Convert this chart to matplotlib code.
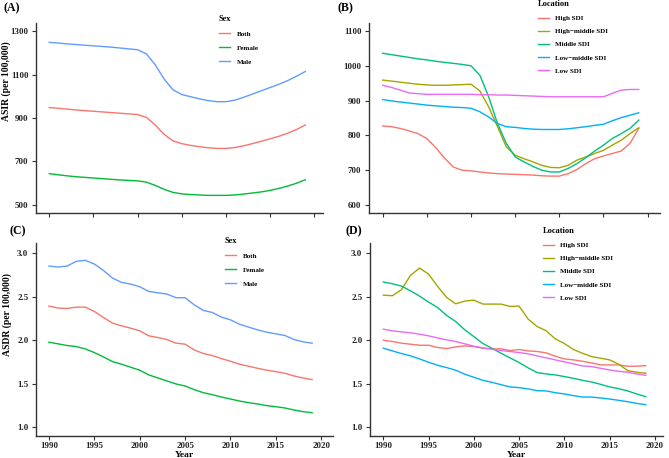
import numpy as np
import matplotlib
matplotlib.use('Agg')
import matplotlib.pyplot as plt

plt.rcParams['font.family'] = ['Liberation Serif', 'DejaVu Serif']
plt.rcParams['font.weight'] = 'bold'

# データ
years = list(range(1990, 2020))

sex_names = ['Both', 'Female', 'Male']
sex_colors = ['#F8766D', '#00BA38', '#619CFF']

loc_names = ['High SDI', 'High\u2212middle SDI', 'Middle SDI', 'Low\u2212middle SDI', 'Low SDI']
loc_colors = ['#F8766D', '#A3A500', '#00BF7D', '#00B0F6', '#E76BF3']

# (A) ASIR by sex
asir_both = [948, 945, 941, 937, 934, 931, 928, 925, 922, 919, 916, 903, 868, 825, 795,
             782, 774, 768, 763, 760, 760, 764, 772, 782, 793, 804, 816, 830, 847, 868]
asir_female = [644, 639, 634, 630, 627, 624, 621, 618, 615, 613, 611, 605, 590, 572, 558,
               551, 548, 546, 544, 544, 544, 546, 550, 555, 560, 567, 576, 587, 600, 616]
asir_male = [1248, 1245, 1241, 1238, 1235, 1232, 1229, 1226, 1222, 1218, 1214, 1195, 1145, 1080, 1030,
             1008, 998, 988, 980, 975, 975, 982, 995, 1010, 1025, 1040, 1055, 1072, 1092, 1114]

# (B) ASIR by SDI
asir_high = [827, 825, 820, 813, 805, 791, 765, 735, 709, 700, 698, 695, 692, 690, 689,
             688, 687, 686, 684, 683, 683, 690, 702, 719, 733, 741, 748, 755, 777, 820]
asir_highmid = [959, 956, 953, 950, 947, 945, 944, 944, 945, 946, 947, 928, 882, 825, 767,
                743, 733, 724, 714, 708, 707, 714, 729, 738, 748, 757, 772, 786, 805, 822]
asir_mid = [1036, 1032, 1028, 1024, 1020, 1017, 1013, 1010, 1007, 1004, 1000, 973, 911, 834, 777,
            738, 724, 711, 700, 695, 695, 705, 719, 736, 755, 772, 791, 805, 820, 844]
asir_lowmid = [903, 899, 896, 893, 890, 887, 885, 883, 881, 880, 878, 868, 853, 834, 825,
               823, 820, 818, 817, 817, 817, 819, 822, 825, 829, 832, 842, 851, 858, 865]
asir_low = [944, 938, 930, 922, 920, 918, 918, 918, 918, 918, 918, 917, 917, 916, 916,
            915, 914, 913, 912, 911, 911, 911, 911, 911, 911, 911, 921, 930, 932, 932]

# (C) ASDR by sex
asdr_both = [2.390, 2.367, 2.363, 2.378, 2.378, 2.328, 2.259, 2.194, 2.163, 2.136, 2.106, 2.048, 2.029, 2.006, 1.964,
             1.952, 1.887, 1.845, 1.821, 1.787, 1.756, 1.722, 1.699, 1.675, 1.653, 1.637, 1.618, 1.587, 1.564, 1.545]
asdr_female = [1.975, 1.956, 1.937, 1.925, 1.898, 1.856, 1.806, 1.752, 1.722, 1.687, 1.653, 1.599, 1.564, 1.530, 1.495,
               1.472, 1.430, 1.395, 1.372, 1.345, 1.322, 1.299, 1.280, 1.265, 1.246, 1.234, 1.219, 1.196, 1.177, 1.165]
asdr_male = [2.850, 2.839, 2.850, 2.904, 2.916, 2.873, 2.800, 2.712, 2.662, 2.643, 2.612, 2.558, 2.543, 2.528, 2.486,
             2.486, 2.405, 2.340, 2.317, 2.263, 2.232, 2.182, 2.148, 2.117, 2.090, 2.071, 2.052, 2.006, 1.979, 1.964]

# (D) ASDR by SDI
asdr_high = [1.998, 1.983, 1.964, 1.952, 1.940, 1.940, 1.914, 1.902, 1.921, 1.933, 1.925, 1.906, 1.898, 1.898, 1.879,
             1.891, 1.875, 1.868, 1.852, 1.814, 1.783, 1.772, 1.756, 1.737, 1.714, 1.714, 1.714, 1.699, 1.699, 1.706]
asdr_highmid = [2.516, 2.509, 2.578, 2.743, 2.827, 2.758, 2.616, 2.489, 2.416, 2.447, 2.459, 2.413, 2.413, 2.413, 2.386,
                2.390, 2.240, 2.155, 2.106, 2.013, 1.960, 1.891, 1.848, 1.810, 1.791, 1.772, 1.722, 1.649, 1.630, 1.618]
asdr_mid = [2.666, 2.647, 2.620, 2.566, 2.505, 2.436, 2.374, 2.282, 2.213, 2.117, 2.040, 1.960, 1.906, 1.848, 1.795,
            1.741, 1.680, 1.626, 1.610, 1.599, 1.580, 1.560, 1.537, 1.518, 1.491, 1.461, 1.441, 1.415, 1.380, 1.349]
asdr_lowmid = [1.906, 1.875, 1.845, 1.818, 1.783, 1.745, 1.710, 1.683, 1.653, 1.607, 1.572, 1.537, 1.514, 1.487, 1.461,
               1.453, 1.438, 1.418, 1.415, 1.395, 1.380, 1.361, 1.345, 1.345, 1.334, 1.322, 1.307, 1.291, 1.272, 1.257]
asdr_low = [2.125, 2.106, 2.094, 2.083, 2.067, 2.048, 2.025, 2.002, 1.983, 1.956, 1.929, 1.910, 1.894, 1.879, 1.868,
            1.856, 1.841, 1.818, 1.795, 1.772, 1.749, 1.726, 1.702, 1.695, 1.675, 1.656, 1.641, 1.630, 1.610, 1.595]

W, H = 669, 458


def px_axes(fig, left, right, top, bottom):
    """ピクセル指定で軸を作成"""
    return fig.add_axes([left / W, 1 - bottom / H, (right - left) / W, (bottom - top) / H])


def style_axes(ax, xlim, ylim, yticks, show_xlabels):
    ax.set_xlim(*xlim)
    ax.set_ylim(*ylim)
    ax.set_xticks(range(1990, 2021, 5))
    ax.set_yticks(yticks)
    for s in ['top', 'right']:
        ax.spines[s].set_visible(False)
    for s in ['left', 'bottom']:
        ax.spines[s].set_linewidth(1.0)
        ax.spines[s].set_color('#333333')
    ax.tick_params(direction='out', length=3, width=0.8, color='#333333',
                   labelsize=6.4, pad=1.5, labelcolor='#222222')
    ax.tick_params(axis='y', pad=2.5)
    if not show_xlabels:
        ax.tick_params(axis='x', labelbottom=False)
    for lab in ax.get_xticklabels() + ax.get_yticklabels():
        lab.set_fontweight('bold')


def set_ylabel_px(ax, text, x, y):
    # 縦軸ラベル(右端 x, 中心 y をピクセルで指定)
    ax.set_ylabel(text, fontsize=6.9, fontweight='bold')
    ax.yaxis.set_label_coords(x / W, 1 - y / H, transform=ax.figure.transFigure)


def add_legend(ax, title, x, y, spacing):
    leg = ax.legend(title=title, loc='upper left', bbox_to_anchor=(x / W, 1 - y / H),
                    bbox_transform=ax.figure.transFigure, frameon=False,
                    fontsize=5, title_fontsize=6, handlelength=1.6,
                    labelspacing=spacing, borderaxespad=0, borderpad=0,
                    handletextpad=0.9)
    leg._legend_box.align = 'left'
    leg.get_title().set_fontweight('bold')
    for t in leg.get_texts():
        t.set_fontweight('bold')


fig = plt.figure(figsize=(W / 100, H / 100), dpi=100)

# (A)
ax = px_axes(fig, 36, 323, 23, 213)
for name, col, v in zip(sex_names, sex_colors, [asir_both, asir_female, asir_male]):
    ax.plot(years, v, color=col, lw=1.0, label=name)
style_axes(ax, (1988.5, 2021.0), (463, 1337), [500, 700, 900, 1100, 1300], False)
set_ylabel_px(ax, 'ASIR (per 100,000)', 11, 81)
add_legend(ax, 'Sex', 219, 15, 1.15)
fig.text(4 / W, 1 - 8 / H, '(A)', fontsize=8.5, fontweight='bold', va='center')

# (B)
ax = px_axes(fig, 369, 660, 23, 213)
for name, col, v in zip(loc_names, loc_colors,
                        [asir_high, asir_highmid, asir_mid, asir_lowmid, asir_low]):
    ax.plot(years, v, color=col, lw=1.0, label=name)
style_axes(ax, (1988.45, 2021.4), (577, 1123), [600, 700, 800, 900, 1000, 1100], False)
add_legend(ax, 'Location', 538, 0, 1.05)
fig.text(337 / W, 1 - 8 / H, '(B)', fontsize=8.5, fontweight='bold', va='center')

# (C)
ax = px_axes(fig, 36, 333, 243, 436)
for name, col, v in zip(sex_names, sex_colors, [asdr_both, asdr_female, asdr_male]):
    ax.plot(years, v, color=col, lw=1.0, label=name)
style_axes(ax, (1988.57, 2021.3), (0.897, 3.115), [1.0, 1.5, 2.0, 2.5, 3.0], True)
set_ylabel_px(ax, 'ASDR (per 100,000)', 12, 315)
ax.set_xlabel('Year', fontsize=6.8, fontweight='bold', labelpad=0.3)
add_legend(ax, 'Sex', 225, 237, 1.15)
fig.text(10 / W, 1 - 231 / H, '(C)', fontsize=8.5, fontweight='bold', va='center')

# (D)
ax = px_axes(fig, 370, 663, 243, 436)
for name, col, v in zip(loc_names, loc_colors,
                        [asdr_high, asdr_highmid, asdr_mid, asdr_lowmid, asdr_low]):
    ax.plot(years, v, color=col, lw=1.0, label=name)
style_axes(ax, (1988.53, 2020.9), (0.897, 3.115), [1.0, 1.5, 2.0, 2.5, 3.0], True)
ax.set_xlabel('Year', fontsize=6.8, fontweight='bold', labelpad=0.3)
add_legend(ax, 'Location', 543, 227, 1.05)
fig.text(345 / W, 1 - 231 / H, '(D)', fontsize=8.5, fontweight='bold', va='center')

fig.savefig('out.png', dpi=100)
